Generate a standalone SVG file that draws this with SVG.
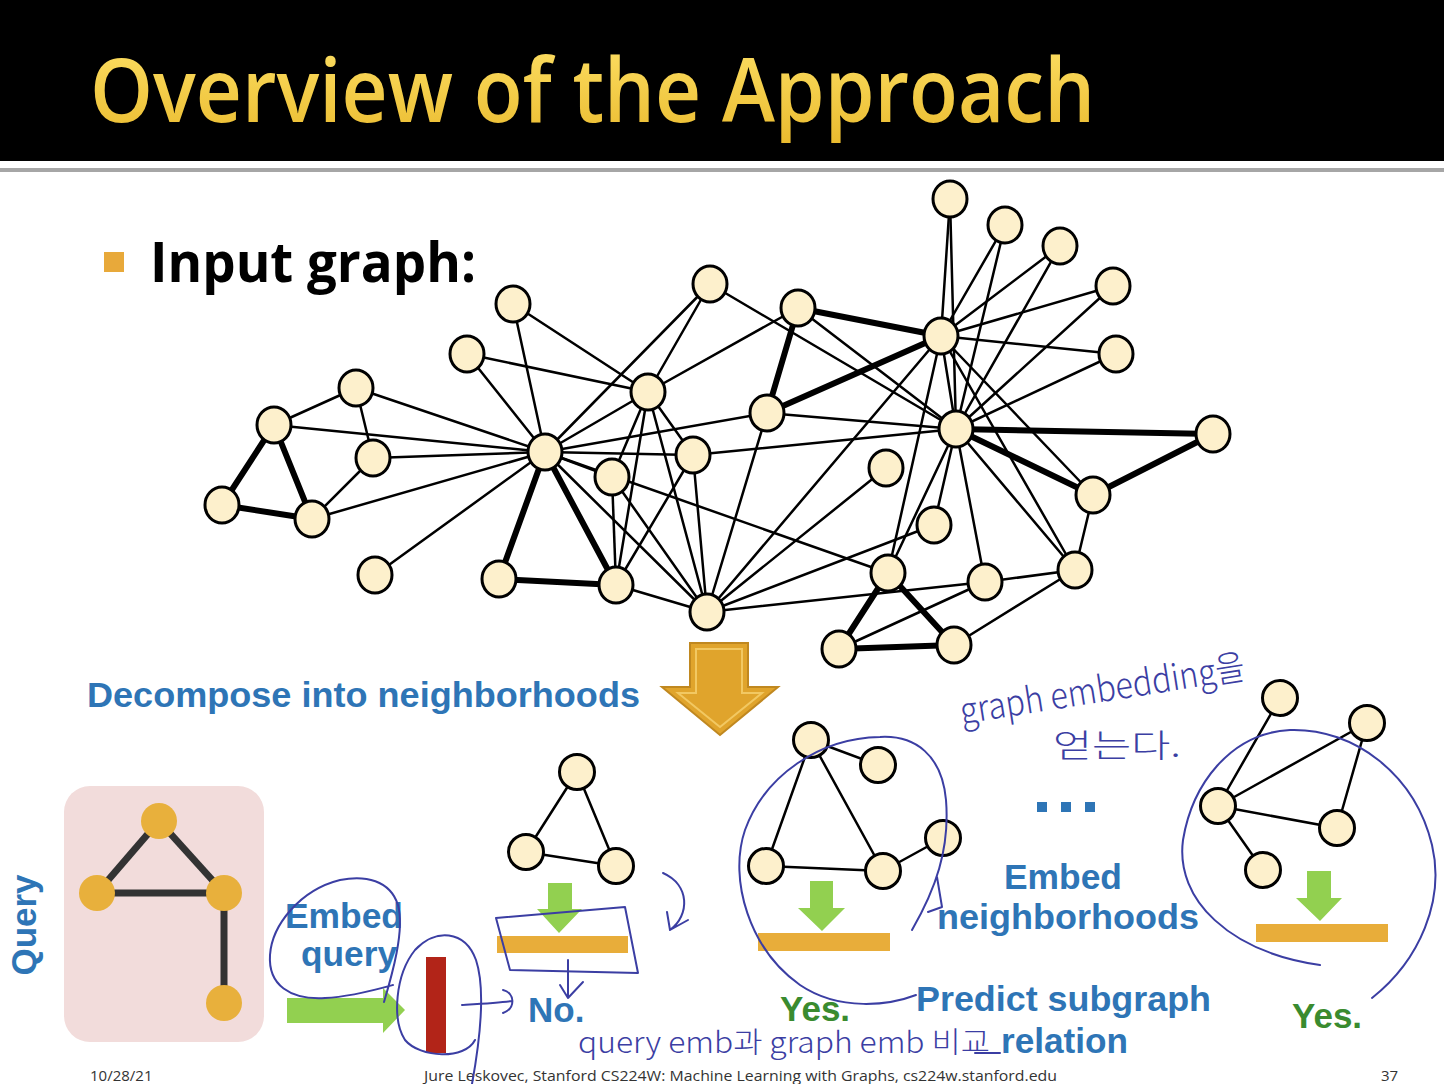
<svg xmlns="http://www.w3.org/2000/svg" width="1444" height="1084" viewBox="0 0 1444 1084">
<defs>
<linearGradient id="tg" x1="0" y1="0" x2="0" y2="1">
<stop offset="0" stop-color="#FFE36A"/>
<stop offset="1" stop-color="#E9B92C"/>
</linearGradient>
</defs>
<style>
.e{stroke:#000;stroke-width:2.5;fill:none;stroke-linecap:round}
.k{stroke:#000;stroke-width:6;fill:none;stroke-linecap:round}
.n{fill:#FDF0CC;stroke:#000;stroke-width:3}
.q{fill:#E8B03C}
.qe{stroke:#333;stroke-width:7;fill:none}
.bl{font-family:"Liberation Sans",Arial,sans-serif;font-weight:bold;font-size:35px;fill:#2E75B6}
.gr{font-family:"Liberation Sans",Arial,sans-serif;font-weight:bold;font-size:35px;fill:#3A8B2F}
.ga{fill:#92D050}
.ob{fill:#E8AD3A}
.pen{stroke:#3B3EA3;stroke-width:2;fill:none;stroke-linecap:round;stroke-linejoin:round}
.hw{font-family:"Noto Sans CJK KR",sans-serif;font-weight:300;fill:#3B3EA3}
.ft{font-family:"Open Sans","Liberation Sans",sans-serif;font-size:15px;fill:#333}
</style>
<rect x="0" y="0" width="1444" height="1084" fill="#fff"/>
<g id="banner">
<rect x="0" y="0" width="1444" height="161" fill="#000"/>
<rect x="0" y="168" width="1444" height="4" fill="#A6A6A6"/>
<text x="90" y="122" font-family="Open Sans,Liberation Sans,sans-serif" font-weight="600" font-size="88" fill="url(#tg)" textLength="1005" lengthAdjust="spacingAndGlyphs">Overview of the Approach</text>
</g>
<g id="bullet">
<rect x="104" y="252" width="20" height="20" fill="#E8A93A"/>
<text x="150" y="282" font-family="Open Sans,Liberation Sans,sans-serif" font-weight="bold" font-size="56" fill="#000" textLength="326" lengthAdjust="spacingAndGlyphs">Input graph:</text>
</g>
<g id="connectors">
<line class="e" x1="274" y1="425" x2="356" y2="388"/>
<line class="e" x1="356" y1="388" x2="373" y2="458"/>
<line class="e" x1="373" y1="458" x2="312" y2="519"/>
<line class="e" x1="274" y1="425" x2="545" y2="452"/>
<line class="e" x1="356" y1="388" x2="545" y2="452"/>
<line class="e" x1="373" y1="458" x2="545" y2="452"/>
<line class="e" x1="312" y1="519" x2="545" y2="452"/>
<line class="e" x1="375" y1="575" x2="545" y2="452"/>
<line class="e" x1="513" y1="304" x2="545" y2="452"/>
<line class="e" x1="467" y1="354" x2="545" y2="452"/>
<line class="e" x1="648" y1="392" x2="545" y2="452"/>
<line class="e" x1="612" y1="477" x2="545" y2="452"/>
<line class="e" x1="693" y1="455" x2="545" y2="452"/>
<line class="e" x1="707" y1="612" x2="545" y2="452"/>
<line class="e" x1="710" y1="284" x2="545" y2="452"/>
<line class="e" x1="767" y1="413" x2="545" y2="452"/>
<line class="e" x1="888" y1="573" x2="545" y2="452"/>
<line class="e" x1="648" y1="392" x2="707" y2="612"/>
<line class="e" x1="648" y1="392" x2="616" y2="585"/>
<line class="e" x1="648" y1="392" x2="612" y2="477"/>
<line class="e" x1="648" y1="392" x2="693" y2="455"/>
<line class="e" x1="648" y1="392" x2="513" y2="304"/>
<line class="e" x1="648" y1="392" x2="467" y2="354"/>
<line class="e" x1="648" y1="392" x2="710" y2="284"/>
<line class="e" x1="648" y1="392" x2="798" y2="308"/>
<line class="e" x1="707" y1="612" x2="616" y2="585"/>
<line class="e" x1="707" y1="612" x2="612" y2="477"/>
<line class="e" x1="707" y1="612" x2="767" y2="413"/>
<line class="e" x1="707" y1="612" x2="934" y2="525"/>
<line class="e" x1="707" y1="612" x2="693" y2="455"/>
<line class="e" x1="707" y1="612" x2="985" y2="582"/>
<line class="e" x1="707" y1="612" x2="886" y2="468"/>
<line class="e" x1="707" y1="612" x2="941" y2="336"/>
<line class="e" x1="616" y1="585" x2="612" y2="477"/>
<line class="e" x1="616" y1="585" x2="693" y2="455"/>
<line class="e" x1="767" y1="413" x2="956" y2="429"/>
<line class="e" x1="934" y1="525" x2="956" y2="429"/>
<line class="e" x1="693" y1="455" x2="956" y2="429"/>
<line class="e" x1="950" y1="199" x2="941" y2="336"/>
<line class="e" x1="950" y1="199" x2="956" y2="429"/>
<line class="e" x1="1005" y1="225" x2="941" y2="336"/>
<line class="e" x1="1005" y1="225" x2="956" y2="429"/>
<line class="e" x1="1060" y1="246" x2="941" y2="336"/>
<line class="e" x1="1060" y1="246" x2="956" y2="429"/>
<line class="e" x1="1113" y1="286" x2="941" y2="336"/>
<line class="e" x1="1113" y1="286" x2="956" y2="429"/>
<line class="e" x1="1116" y1="354" x2="941" y2="336"/>
<line class="e" x1="1116" y1="354" x2="956" y2="429"/>
<line class="e" x1="710" y1="284" x2="956" y2="429"/>
<line class="e" x1="1075" y1="570" x2="954" y2="645"/>
<line class="e" x1="1075" y1="570" x2="985" y2="582"/>
<line class="e" x1="1075" y1="570" x2="1093" y2="495"/>
<line class="e" x1="1075" y1="570" x2="941" y2="336"/>
<line class="e" x1="1075" y1="570" x2="956" y2="429"/>
<line class="e" x1="839" y1="649" x2="985" y2="582"/>
<line class="e" x1="985" y1="582" x2="956" y2="429"/>
<line class="e" x1="1093" y1="495" x2="941" y2="336"/>
<line class="e" x1="798" y1="308" x2="956" y2="429"/>
<line class="e" x1="888" y1="573" x2="941" y2="336"/>
<line class="e" x1="888" y1="573" x2="956" y2="429"/>
<line class="e" x1="941" y1="336" x2="956" y2="429"/>
<line class="k" x1="274" y1="425" x2="222" y2="505"/>
<line class="k" x1="274" y1="425" x2="312" y2="519"/>
<line class="k" x1="222" y1="505" x2="312" y2="519"/>
<line class="k" x1="545" y1="452" x2="499" y2="579"/>
<line class="k" x1="545" y1="452" x2="616" y2="585"/>
<line class="k" x1="499" y1="579" x2="616" y2="585"/>
<line class="k" x1="798" y1="308" x2="767" y2="413"/>
<line class="k" x1="798" y1="308" x2="941" y2="336"/>
<line class="k" x1="767" y1="413" x2="941" y2="336"/>
<line class="k" x1="956" y1="429" x2="1213" y2="434"/>
<line class="k" x1="956" y1="429" x2="1093" y2="495"/>
<line class="k" x1="1213" y1="434" x2="1093" y2="495"/>
<line class="k" x1="888" y1="573" x2="839" y2="649"/>
<line class="k" x1="888" y1="573" x2="954" y2="645"/>
<line class="k" x1="839" y1="649" x2="954" y2="645"/>
</g>
<g id="nodes">
<ellipse id="nA" class="n" cx="950" cy="199" rx="17" ry="18"/>
<ellipse id="nB" class="n" cx="1005" cy="225" rx="17" ry="18"/>
<ellipse id="nC" class="n" cx="1060" cy="246" rx="17" ry="18"/>
<ellipse id="nD" class="n" cx="1113" cy="286" rx="17" ry="18"/>
<ellipse id="nE" class="n" cx="1116" cy="354" rx="17" ry="18"/>
<ellipse id="nF" class="n" cx="941" cy="336" rx="17" ry="18"/>
<ellipse id="nG" class="n" cx="798" cy="308" rx="17" ry="18"/>
<ellipse id="nH" class="n" cx="710" cy="284" rx="17" ry="18"/>
<ellipse id="nI" class="n" cx="513" cy="304" rx="17" ry="18"/>
<ellipse id="nJ" class="n" cx="467" cy="354" rx="17" ry="18"/>
<ellipse id="nK" class="n" cx="356" cy="388" rx="17" ry="18"/>
<ellipse id="nL" class="n" cx="274" cy="425" rx="17" ry="18"/>
<ellipse id="nM" class="n" cx="373" cy="458" rx="17" ry="18"/>
<ellipse id="nN" class="n" cx="545" cy="452" rx="17" ry="18"/>
<ellipse id="nO" class="n" cx="648" cy="392" rx="17" ry="18"/>
<ellipse id="nP" class="n" cx="612" cy="477" rx="17" ry="18"/>
<ellipse id="nQ" class="n" cx="693" cy="455" rx="17" ry="18"/>
<ellipse id="nR" class="n" cx="767" cy="413" rx="17" ry="18"/>
<ellipse id="nS" class="n" cx="956" cy="429" rx="17" ry="18"/>
<ellipse id="nT" class="n" cx="1213" cy="434" rx="17" ry="18"/>
<ellipse id="nU" class="n" cx="1093" cy="495" rx="17" ry="18"/>
<ellipse id="nV" class="n" cx="886" cy="468" rx="17" ry="18"/>
<ellipse id="nW" class="n" cx="934" cy="525" rx="17" ry="18"/>
<ellipse id="nX" class="n" cx="222" cy="505" rx="17" ry="18"/>
<ellipse id="nY" class="n" cx="312" cy="519" rx="17" ry="18"/>
<ellipse id="nZ" class="n" cx="375" cy="575" rx="17" ry="18"/>
<ellipse id="nAA" class="n" cx="499" cy="579" rx="17" ry="18"/>
<ellipse id="nAB" class="n" cx="616" cy="585" rx="17" ry="18"/>
<ellipse id="nAC" class="n" cx="707" cy="612" rx="17" ry="18"/>
<ellipse id="nAD" class="n" cx="888" cy="573" rx="17" ry="18"/>
<ellipse id="nAE" class="n" cx="985" cy="582" rx="17" ry="18"/>
<ellipse id="nAF" class="n" cx="1075" cy="570" rx="17" ry="18"/>
<ellipse id="nAG" class="n" cx="839" cy="649" rx="17" ry="18"/>
<ellipse id="nAH" class="n" cx="954" cy="645" rx="17" ry="18"/>
</g>
<g id="decompose">
<text class="bl" x="87" y="707" textLength="553" lengthAdjust="spacingAndGlyphs">Decompose into neighborhoods</text>
<polygon points="690,643 748,643 748,687 778,687 720,735 662,687 690,687" fill="#E0A42C" stroke="#C08820" stroke-width="2"/>
<polygon points="696,649 742,649 742,693 762,693 720,727 678,693 696,693" fill="none" stroke="#F2C862" stroke-width="2"/>
</g>
<g id="query">
<rect x="64" y="786" width="200" height="256" rx="26" fill="#F2DCDB"/>
<line class="qe" x1="159" y1="821" x2="97" y2="893"/>
<line class="qe" x1="159" y1="821" x2="224" y2="893"/>
<line class="qe" x1="97" y1="893" x2="224" y2="893"/>
<line class="qe" x1="224" y1="893" x2="224" y2="1003"/>
<circle class="q" cx="159" cy="821" r="18"/>
<circle class="q" cx="97" cy="893" r="18"/>
<circle class="q" cx="224" cy="893" r="18"/>
<circle class="q" cx="224" cy="1003" r="18"/>
<text class="bl" transform="translate(36,925) rotate(-90)" text-anchor="middle" x="0" y="0">Query</text>
</g>
<g id="embed-query">
<text class="bl" x="285" y="928" textLength="118" lengthAdjust="spacingAndGlyphs">Embed</text>
<text class="bl" x="301" y="966" textLength="96" lengthAdjust="spacingAndGlyphs">query</text>
<polygon class="ga" points="287,998 383,998 383,988 405,1010 383,1033 383,1023 287,1023"/>
<rect x="426" y="957" width="20" height="96" fill="#B22418"/>
</g>
<g id="neigh1">
<line class="e" x1="577" y1="772" x2="526" y2="852"/>
<line class="e" x1="577" y1="772" x2="616" y2="866"/>
<line class="e" x1="526" y1="852" x2="616" y2="866"/>
<circle class="n" cx="577" cy="772" r="17.5"/>
<circle class="n" cx="526" cy="852" r="17.5"/>
<circle class="n" cx="616" cy="866" r="17.5"/>
<polygon class="ga" points="548,883 572,883 572,909 582,909 559,933 537,909 548,909"/>
<rect class="ob" x="497" y="936" width="131" height="17"/>
<text class="bl" x="528" y="1022">No.</text>
</g>
<g id="neigh2">
<line class="e" x1="811" y1="740" x2="878" y2="765"/>
<line class="e" x1="811" y1="740" x2="766" y2="866"/>
<line class="e" x1="811" y1="740" x2="883" y2="871"/>
<line class="e" x1="766" y1="866" x2="883" y2="871"/>
<line class="e" x1="883" y1="871" x2="943" y2="838"/>
<circle class="n" cx="811" cy="740" r="17.5"/>
<circle class="n" cx="878" cy="765" r="17.5"/>
<circle class="n" cx="766" cy="866" r="17.5"/>
<circle class="n" cx="883" cy="871" r="17.5"/>
<circle class="n" cx="943" cy="838" r="17.5"/>
<polygon class="ga" points="810,881 833,881 833,908 845,908 822,931 798,908 810,908"/>
<rect class="ob" x="758" y="933" width="132" height="18"/>
<text class="gr" x="780" y="1021">Yes.</text>
</g>
<g id="neigh3">
<line class="e" x1="1280" y1="698" x2="1218" y2="806"/>
<line class="e" x1="1367" y1="723" x2="1218" y2="806"/>
<line class="e" x1="1367" y1="723" x2="1337" y2="828"/>
<line class="e" x1="1218" y1="806" x2="1337" y2="828"/>
<line class="e" x1="1218" y1="806" x2="1263" y2="870"/>
<circle class="n" cx="1280" cy="698" r="17.5"/>
<circle class="n" cx="1367" cy="723" r="17.5"/>
<circle class="n" cx="1218" cy="806" r="17.5"/>
<circle class="n" cx="1337" cy="828" r="17.5"/>
<circle class="n" cx="1263" cy="870" r="17.5"/>
<polygon class="ga" points="1307,871 1331,871 1331,898 1342,898 1320,921 1296,898 1307,898"/>
<rect class="ob" x="1256" y="924" width="132" height="18"/>
<text class="gr" x="1292" y="1028">Yes.</text>
</g>
<g id="labels">
<rect x="1037" y="802" width="10" height="10" fill="#2E75B6"/>
<rect x="1061" y="802" width="10" height="10" fill="#2E75B6"/>
<rect x="1085" y="802" width="10" height="10" fill="#2E75B6"/>
<text class="bl" x="1004" y="889" textLength="118" lengthAdjust="spacingAndGlyphs">Embed</text>
<text class="bl" x="937" y="929" textLength="262" lengthAdjust="spacingAndGlyphs">neighborhoods</text>
<text class="bl" x="916" y="1011" textLength="295" lengthAdjust="spacingAndGlyphs">Predict subgraph</text>
<text class="bl" x="1001" y="1053" textLength="127" lengthAdjust="spacingAndGlyphs">relation</text>
</g>
<g id="footer">
<text class="ft" x="90" y="1081">10/28/21</text>
<text class="ft" x="424" y="1081" textLength="633" lengthAdjust="spacingAndGlyphs">Jure Leskovec, Stanford CS224W: Machine Learning with Graphs, cs224w.stanford.edu</text>
<text class="ft" x="1381" y="1081">37</text>
</g>
<g id="annotations">
<path class="pen" d="M384,1002 C392,975 405,930 398,905 C390,880 365,875 340,880 C300,890 272,925 270,955 C268,985 290,1000 325,998 C350,997 375,990 393,985"/>
<path class="pen" d="M475,1040 C465,1060 420,1058 405,1040 C392,1020 395,975 415,950 C435,928 465,930 476,960 C486,990 480,1040 472,1084"/>
<path class="pen" d="M462,1005 C480,1004 500,1003 512,1001 M503,990 C515,993 516,1008 503,1013"/>
<path class="pen" d="M496,918 L625,907 L638,973 L510,970 Z"/>
<path class="pen" d="M568,960 L568,998 M560,985 L568,998 L583,982"/>
<path class="pen" d="M663,873 C690,885 690,915 670,930 M667,912 L670,930 L688,920"/>
<path class="pen" d="M912,930 C935,890 950,850 946,800 C942,755 915,735 880,737 C820,738 765,775 745,830 C728,880 750,950 800,985 C840,1012 890,1005 916,995 M937,877 L942,907 L928,912"/>
<path class="pen" d="M1372,998 C1420,960 1445,900 1432,845 C1415,775 1355,728 1290,730 C1230,733 1192,785 1183,840 C1175,900 1230,952 1320,965"/>
<path class="pen" d="M975,1053 L1000,1053"/>
<text class="hw" x="962" y="724" font-size="36" transform="rotate(-9 962 724)" textLength="288" lengthAdjust="spacingAndGlyphs">graph embedding을</text>
<text class="hw" x="1053" y="757" font-size="32" textLength="128" lengthAdjust="spacingAndGlyphs">얻는다.</text>
<text class="hw" x="578" y="1053" font-size="29" textLength="412" lengthAdjust="spacingAndGlyphs">query emb과 graph emb 비교</text>
</g>
</svg>
